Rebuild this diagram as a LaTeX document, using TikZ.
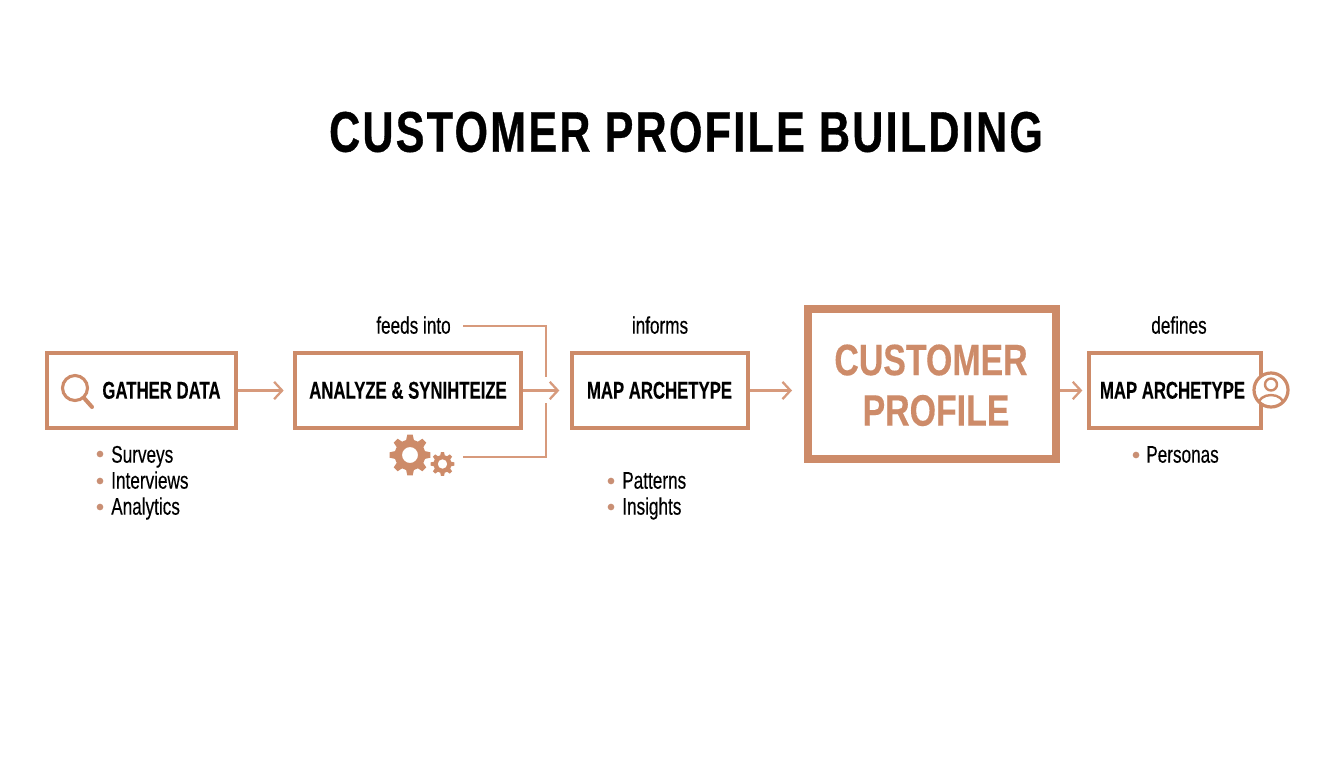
\documentclass[tikz,border=0pt]{standalone}
\usepackage{fontspec}
\usetikzlibrary{arrows.meta}
\setmainfont{Liberation Sans}
\newfontfamily\condfont[FakeStretch=0.69,FakeBold=0.3]{Liberation Sans}
\newfontfamily\bigfont[FakeStretch=0.77,FakeBold=0.3]{Liberation Sans}
\newfontfamily\labfont[FakeStretch=0.715,FakeBold=0.3]{Liberation Sans}
\newfontfamily\titlefont[FakeStretch=0.75,LetterSpace=4,FakeBold=0.6]{Liberation Sans}
\definecolor{peach}{HTML}{CD8B69}
\definecolor{peachline}{HTML}{D79A7C}
\definecolor{dotc}{HTML}{C98F74}
\newcommand{\gearshape}[6]{% cx cy outer body hole teeth
  \fill[peach,even odd rule]
    ({#1+#4*cos(0.68*360/#6)},{#2+#4*sin(0.68*360/#6)})
    \foreach \k in {1,...,#6}{
      -- ({#1+#3*cos((\k-0.17)*360/#6)},{#2+#3*sin((\k-0.17)*360/#6)})
      -- ({#1+#3*cos((\k+0.17)*360/#6)},{#2+#3*sin((\k+0.17)*360/#6)})
      -- ({#1+#4*cos((\k+0.32)*360/#6)},{#2+#4*sin((\k+0.32)*360/#6)})
      -- ({#1+#4*cos((\k+0.68)*360/#6)},{#2+#4*sin((\k+0.68)*360/#6)})
    } -- cycle
    (#1,#2) circle (#5);
}
\tikzset{
  x=0.75pt,y=-0.75pt,
  flowbox/.style={draw=peach,fill=white,inner sep=0pt,line width=3pt},
  boxtext/.style={font=\condfont\bfseries\fontsize{18.2}{20}\selectfont,text=black,inner sep=0pt,text height=13pt,text depth=0pt},
  toplabel/.style={font=\labfont\fontsize{18}{20}\selectfont,text=black,inner sep=0pt,text height=11.5pt,text depth=0pt},
  bullettext/.style={font=\labfont\fontsize{18}{20}\selectfont,text=black,inner sep=0pt,anchor=west,text height=11.5pt,text depth=0pt},
  bulletdot/.style={circle,fill=dotc,inner sep=0pt,minimum size=5pt},
  flowarrow/.style={draw=peachline,line width=1.7pt,-{Straight Barb[length=6pt,width=13pt,line width=1.7pt]}},
  feedline/.style={draw=peachline,line width=1.5pt},
  bigtext/.style={font=\bigfont\bfseries\fontsize{33}{36}\selectfont,text=peach,inner sep=0pt,text height=23.5pt,text depth=0pt},
}
\begin{document}
\begin{tikzpicture}
\useasboundingbox[fill=white] (0,0) rectangle (1344,768);

\node[font=\titlefont\bfseries\fontsize{43}{48}\selectfont,text=black,inner sep=0pt] (title) at (686,132) {CUSTOMER PROFILE BUILDING};

% boxes
\node[flowbox,minimum width=142pt,minimum height=56.5pt] (gather) at (141.5,390.5) {};
\node[flowbox,minimum width=169.5pt,minimum height=56.5pt] (analyze) at (408,390.5) {};
\node[flowbox,minimum width=132pt,minimum height=56.5pt] (archa) at (660,390.5) {};
\node[flowbox,line width=6pt,minimum width=186pt,minimum height=113pt] (profile) at (932,384) {};
\node[flowbox,minimum width=129pt,minimum height=56.5pt] (archb) at (1175,390.5) {};

% box texts
\node[boxtext] (gathert) at (161.5,390) {GATHER DATA};
\node[boxtext] (analyzet) at (408,390) {ANALYZE \& SYNIHTEIZE};
\node[boxtext] (archat) at (659.5,390) {MAP ARCHETYPE};
\node[boxtext] (archbt) at (1172.5,390) {MAP ARCHETYPE};
\node[bigtext] (cust) at (931,359.5) {CUSTOMER};
\node[bigtext] (prof) at (936,410) {PROFILE};

% top labels
\node[toplabel] (feeds) at (413.5,326) {feeds into};
\node[toplabel] (informs) at (660,326) {informs};
\node[toplabel] (defines) at (1179,326) {defines};

% lists
\node[bullettext] (l1) at (111,455) {Surveys};
\node[bullettext] (l2) at (111,481) {Interviews};
\node[bullettext] (l3) at (111,507) {Analytics};
\node[bullettext] (l4) at (622,481) {Patterns};
\node[bullettext] (l5) at (622,507) {Insights};
\node[bullettext] (l6) at (1146,455) {Personas};
\node[bulletdot] (d1) at (100,454) {};
\node[bulletdot] (d2) at (100,481) {};
\node[bulletdot] (d3) at (100,507) {};
\node[bulletdot] (d4) at (611,481) {};
\node[bulletdot] (d5) at (611,507) {};
\node[bulletdot] (d6) at (1136,455) {};

% arrows
\draw[flowarrow,shorten >=7pt] (gather.east) -- (analyze.west);
\draw[flowarrow,shorten >=8pt] (analyze.east) -- (archa.west);
\draw[flowarrow,shorten >=9pt] (archa.east) -- (archa.east -| profile.west);
\draw[flowarrow,shorten >=3.5pt] (archb.west -| profile.east) -- (archb.west);

% feed lines
\coordinate (feedstart) at (463,325.5);
\coordinate (feedend) at (546,377);
\coordinate (gearend) at (546,403);
\coordinate (gearstart) at (463,457);
\draw[feedline] (feedstart) -| (feedend);
\draw[feedline] (gearstart) -| (gearend);

% gears
\gearshape{410}{455}{20.5}{15.5}{8}{8}
\gearshape{442.5}{464}{12}{9}{4.8}{8}

% magnifier
\draw[peach,line width=2.3pt] (75,388) circle (12.5);
\draw[peach,line width=3pt,line cap=round] (84,398) -- (92,407);

% person
\fill[white] (1271,390) circle (17);
\begin{scope}
\clip (1271,390) circle (17);
\draw[peach,line width=1.8pt] (1271,405) ellipse (13 and 10);
\end{scope}
\fill[white] (1271,385) circle (7);
\draw[peach,line width=1.8pt] (1271,384.5) circle (6);
\draw[peach,line width=2.4pt] (1271,390) circle (17);
\end{tikzpicture}
\end{document}
